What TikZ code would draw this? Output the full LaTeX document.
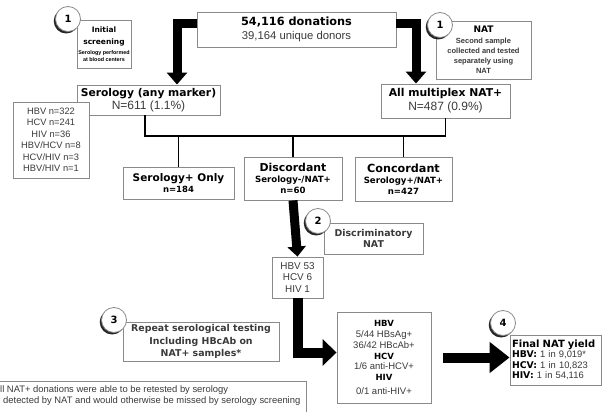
\documentclass[tikz,border=0pt]{standalone}
\usepackage{fontspec}
\setmainfont{Liberation Sans}
\newfontfamily\dv{DejaVu Sans}
\usetikzlibrary{arrows.meta,shadows}
\definecolor{boxgray}{HTML}{8A8A8A}
\definecolor{txt}{HTML}{3A3A3A}
\newcommand\fs[2]{\fontsize{#1}{#2}\selectfont}
\newcommand\bh{\dv\bfseries\color{black}}
\newcommand\sbf{\bfseries\color{black}}
\begin{document}
\begin{tikzpicture}[x=1pt,y=-1pt,
  box/.style={draw=boxgray,line width=0.9pt,fill=white,inner sep=0pt,align=center,text=txt},
  stepnum/.style={circle,draw=boxgray,fill=white,line width=0.8pt,minimum size=25pt,inner sep=0pt,
     font=\fs{10}{12}\bh,drop shadow={shadow xshift=-1.8pt,shadow yshift=-2pt,fill=black,opacity=0.85}},
  link/.style={line width=1.8pt,black},
  bigarrow/.style={line width=9pt,line join=miter,black,-{Triangle[width=20pt,length=12pt]}},
]
\useasboundingbox (0,0) rectangle (606,412);
\fill[white] (0,0) rectangle (606,412);
\clip (0,0) rectangle (606,412);

% boxes
\node[box,minimum width=199pt,minimum height=35pt,font=\fs{11.3}{13.5}] (top) at (296.5,29.5)
  {{\bh 54,116 donations}\\39,164 unique donors};
\node[box,minimum width=54pt,minimum height=48pt,font=\fs{7.5}{7}] (init) at (104,44)
  {{\bh Initial}\\[5pt]{\bh screening}\\[3pt]{\fs{5.4}{7}\sbf Serology performed}\\{\fs{5.4}{7}\sbf at blood centers}};
\node[box,minimum width=95pt,minimum height=58pt,font=\fs{7.5}{10}\sbf] (nat1) at (483.5,50)
  {{\fs{9}{10}\bh NAT}\\[1pt]Second sample\\collected and tested\\separately using\\NAT};
\node[box,minimum width=143pt,minimum height=30pt,font=\fs{12}{13}] (sero) at (148.5,100)
  {{\fs{10.7}{13}\bh Serology (any marker)}\\N=611 (1.1\%)};
\node[box,minimum width=129pt,minimum height=34pt,font=\fs{12}{14}] (allnat) at (445.5,101)
  {{\fs{10.8}{14}\bh All multiplex NAT+}\\N=487 (0.9\%)};
\node[box,minimum width=76pt,minimum height=76pt,font=\fs{9.3}{11.5}] (list) at (51,140)
  {HBV n=322\\HCV n=241\\HIV n=36\\HBV/HCV n=8\\HCV/HIV n=3\\HBV/HIV n=1};
\node[box,minimum width=111pt,minimum height=32pt,font=\fs{8.5}{11.5}] (seroonly) at (178.5,183)
  {{\fs{10.5}{12}\bh Serology+ Only}\\{\bh n=184}};
\node[box,minimum width=98pt,minimum height=43pt,font=\fs{8.6}{10.8}] (disc) at (293,178.5)
  {{\fs{10.9}{12}\bh Discordant}\\{\bh Serology-/NAT+}\\{\bh n=60}};
\node[box,minimum width=97pt,minimum height=44pt,font=\fs{8.6}{10.8}] (conc) at (403.5,179)
  {{\fs{11.2}{12}\bh Concordant}\\{\bh Serology+/NAT+}\\{\bh n=427}};
\node[box,minimum width=99pt,minimum height=31pt,font=\fs{9.4}{11}\bh] (disnat) at (373.5,238.5)
  {Discriminatory\\NAT};
\node[box,minimum width=51pt,minimum height=41pt,font=\fs{9.9}{11.5}] (hbv53) at (297.5,277.5)
  {HBV 53\\HCV 6\\HIV 1};
\node[box,minimum width=156pt,minimum height=39pt,font=\fs{9.4}{12.5}\bh] (repeat) at (201,341.5)
  {Repeat serological testing\\Including HBcAb on\\NAT+ samples*};
\node[box,minimum width=94pt,minimum height=91pt,font=\fs{9.5}{10.8}] (results) at (384,357.5)
  {{\fs{8.5}{10}\bh HBV}\\5/44 HBsAg+\\36/42 HBcAb+\\{\fs{8.5}{10}\bh HCV}\\1/6 anti-HCV+\\{\fs{8.5}{10}\bh HIV}\\[3pt]0/1 anti-HIV+};
\node[box,minimum width=91pt,minimum height=50pt,text width=87pt,inner xsep=2pt,align=left,font=\fs{9.4}{10.4}] (final) at (555.5,360)
  {{\fs{10}{10.4}\bh Final NAT yield}\\{\fs{9.3}{10.4}\bh HBV:} 1 in 9,019*\\{\fs{9.3}{10.4}\bh HCV:} 1 in 10,823\\{\fs{9.3}{10.4}\bh HIV:} 1 in 54,116};

% footnote
\node[box,anchor=north west,minimum width=320pt,minimum height=40pt] (footbox) at (-14,381) {};
\node[anchor=north west,inner sep=0pt,align=left,text=txt,font=\fs{9.4}{11}] (foot) at (0,385)
  {ll NAT+ donations were able to be retested by serology\\\hspace*{3pt}detected by NAT and would otherwise be missed by serology screening};

% step circles
\node[stepnum] (s1a) at (68,19) {1};
\node[stepnum] (s1b) at (440,25) {1};
\node[stepnum] (s2) at (318,221) {2};
\node[stepnum] (s3) at (114,320) {3};
\node[stepnum] (s4) at (503,323) {4};

% thin connectors
\coordinate (bus) at (145,136);
\draw[link] ([xshift=-3.5pt]sero.south) -- (bus) -| (allnat.south);
\draw[link] (seroonly.north) -- (seroonly.north |- bus);
\draw[link] (disc.north) -- (disc.north |- bus);
\draw[link] (conc.north) -- (conc.north |- bus);

% thick arrows
\draw[bigarrow] ([yshift=6pt]top.west) -| ([xshift=28.5pt]sero.north);
\draw[bigarrow] ([yshift=6pt]top.east) -| ([xshift=-29.5pt]allnat.north);
\draw[bigarrow,-{Triangle[width=18pt,length=10pt]}] (disc.south) -- (hbv53.north);
\draw[line width=10pt,line join=miter,black,-{Triangle[width=26pt,length=14pt]}] (hbv53.south) |- ([yshift=5pt]results.west);
\draw[line width=10pt,black,shorten <=12pt,-{Triangle[width=30pt,length=20pt]}] (results.east) -- ([yshift=2.5pt]final.west);
\end{tikzpicture}
\end{document}
